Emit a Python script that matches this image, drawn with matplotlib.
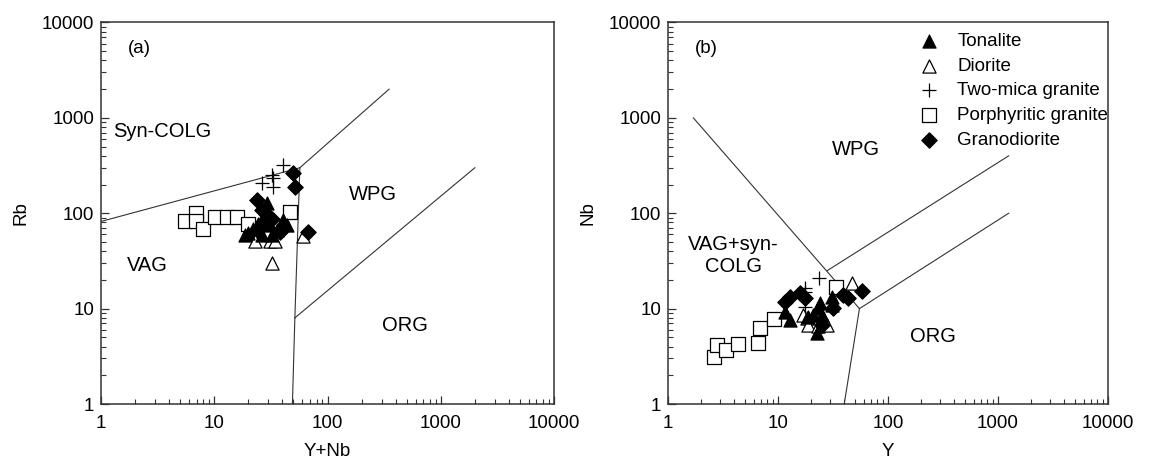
import matplotlib
matplotlib.use("Agg")
import matplotlib.pyplot as plt
from matplotlib.ticker import LogLocator, NullFormatter, FixedLocator, FixedFormatter

plt.rcParams['font.family'] = ['Liberation Sans', 'DejaVu Sans']

# ---------------- data: panel (a) Rb vs Y+Nb ----------------
ton_a_x = [20, 22.1, 29, 30, 31, 35.6, 40.7, 43.7, 24.5, 26.2, 18.7, 32.2]
ton_a_y = [61.5, 69, 127, 104, 75, 67, 85, 75, 78, 59, 59, 59]
dio_a_x = [22.9, 31, 34.3, 32.2, 60.4]
dio_a_y = [51.5, 51.5, 51.5, 29.8, 57.7]
tmg_a_x = [40.7, 32.2, 33.3, 26.2, 33.3]
tmg_a_y = [320, 251, 232, 206, 190]
por_a_x = [5.5, 6.86, 6.86, 8.0, 10.1, 12.9, 15.8, 20, 46.5]
por_a_y = [83.5, 100, 83, 67.6, 91.7, 91.7, 91.7, 77, 104]
grd_a_x = [49.9, 51.6, 67.7, 23.7, 26.2, 29, 27, 24.5, 38.1, 32.2]
grd_a_y = [262, 187, 64, 137, 108, 96, 81, 67, 64, 88]

# ---------------- data: panel (b) Nb vs Y ----------------
ton_b_x = [11.6, 12.9, 23.2, 21, 25, 30.7, 30.7, 22.5, 24.1, 18.8]
ton_b_y = [9.3, 7.6, 10.1, 8.6, 8.6, 13.4, 10.9, 5.5, 11.4, 8.2]
dio_b_x = [47, 17, 18.2, 18.8, 27.8, 23.2]
dio_b_y = [18.5, 8.6, 7.9, 6.75, 6.75, 6.5]
tmg_b_x = [23.8, 17.6, 17.6, 17.6]
tmg_b_y = [20.8, 16.4, 15.1, 10.5]
por_b_x = [2.64, 2.77, 3.37, 4.36, 6.54, 6.86, 9.2, 33.5]
por_b_y = [3.13, 4.16, 3.69, 4.23, 4.4, 6.33, 7.8, 17.0]
grd_b_x = [12.9, 15.9, 17.6, 11.6, 25, 31.8, 43.5, 39, 58]
grd_b_y = [13.4, 14.5, 12.9, 11.8, 6.75, 10.1, 12.9, 13.9, 15.3]

# ---------------- discrimination boundaries ----------------
bound_a = [
    ([1, 57], [82, 300]),
    ([57, 350], [300, 2000]),
    ([57, 51.5], [300, 8]),
    ([51.5, 49], [8, 1]),
    ([51.5, 2000], [8, 300]),
]
bound_b = [
    ([1.7, 55], [1000, 10]),
    ([28, 1250], [25, 400]),
    ([55, 1250], [10, 100]),
    ([55, 40], [10, 1]),
]

labels = ["Tonalite", "Diorite", "Two-mica granite", "Porphyritic granite", "Granodiorite"]
ticks = [1, 10, 100, 1000, 10000]
tick_labels = ["1", "10", "100", "1000", "10000"]

styles = [
    dict(marker='^', facecolors='black', edgecolors='black', s=90, linewidths=0.8),
    dict(marker='^', facecolors='white', edgecolors='black', s=90, linewidths=0.9),
    dict(marker='+', c='black', s=100, linewidths=0.9),
    dict(marker='s', facecolors='white', edgecolors='black', s=90, linewidths=0.9),
    dict(marker='D', facecolors='black', edgecolors='black', s=62, linewidths=0.8),
]

fig = plt.figure(figsize=(11.58, 4.61), dpi=100)
axa = fig.add_axes([101/1158, 57/461, 453/1158, 381.5/461])
axb = fig.add_axes([668/1158, 57/461, 440/1158, 381.5/461])

spine_c = '#333333'
FS = 13.5

def setup(ax, xlabel, ylabel):
    ax.set_xscale('log')
    ax.set_yscale('log')
    ax.set_xlim(1, 10000)
    ax.set_ylim(1, 10000)
    for s in ax.spines.values():
        s.set_color(spine_c)
        s.set_linewidth(1.1)
    ax.xaxis.set_major_locator(FixedLocator(ticks))
    ax.xaxis.set_major_formatter(FixedFormatter(tick_labels))
    ax.yaxis.set_major_locator(FixedLocator(ticks))
    ax.yaxis.set_major_formatter(FixedFormatter(tick_labels))
    ax.xaxis.set_minor_locator(LogLocator(base=10, subs=range(2, 10), numticks=20))
    ax.yaxis.set_minor_locator(LogLocator(base=10, subs=range(2, 10), numticks=20))
    ax.xaxis.set_minor_formatter(NullFormatter())
    ax.yaxis.set_minor_formatter(NullFormatter())
    ax.tick_params(which='major', direction='in', length=6, width=0.9, color=spine_c,
                   labelsize=FS, top=False, right=False)
    ax.tick_params(axis='x', which='major', pad=8)
    ax.tick_params(axis='y', which='major', pad=5)
    ax.tick_params(which='minor', direction='in', length=3.5, width=0.8, color=spine_c,
                   top=False, right=False)
    ax.set_xlabel(xlabel, fontsize=FS, labelpad=7.5)
    ax.set_ylabel(ylabel, fontsize=FS, labelpad=9)

setup(axa, 'Y+Nb', 'Rb')
setup(axb, 'Y', 'Nb')

for xs, ys in bound_a:
    axa.plot(xs, ys, color='#333333', lw=0.8, zorder=1)
for xs, ys in bound_b:
    axb.plot(xs, ys, color='#333333', lw=0.8, zorder=1)

data_a = [(ton_a_x, ton_a_y), (dio_a_x, dio_a_y), (tmg_a_x, tmg_a_y), (por_a_x, por_a_y), (grd_a_x, grd_a_y)]
data_b = [(ton_b_x, ton_b_y), (dio_b_x, dio_b_y), (tmg_b_x, tmg_b_y), (por_b_x, por_b_y), (grd_b_x, grd_b_y)]
order = [3, 2, 1, 0, 4]
handles = [None] * 5
for i in order:
    axa.scatter(*data_a[i], zorder=3, **styles[i])
    handles[i] = axb.scatter(*data_b[i], zorder=3, label=labels[i], **styles[i])

# region labels
FL = 14.5
axa.text(0.06, 0.933, '(a)', transform=axa.transAxes, fontsize=13.5, va='center', ha='left')
axa.text(1.28, 728, 'Syn-COLG', fontsize=FL, va='center', ha='left')
axa.text(1.70, 28.5, 'VAG', fontsize=FL, va='center', ha='left')
axa.text(252, 159, 'WPG', fontsize=FL, va='center', ha='center')
axa.text(483, 6.7, 'ORG', fontsize=FL, va='center', ha='center')

axb.text(0.061, 0.933, '(b)', transform=axb.transAxes, fontsize=13.5, va='center', ha='left')
axb.text(51, 463, 'WPG', fontsize=FL, va='center', ha='center')
axb.text(3.9, 36, 'VAG+syn-\nCOLG', fontsize=FL, va='center', ha='center',
         multialignment='center', linespacing=1.2)
axb.text(256, 5.05, 'ORG', fontsize=FL, va='center', ha='center')

leg = axb.legend(handles=handles, labels=labels, loc='upper left',
                 bbox_to_anchor=((918 - 668) / 440, (404 - 33) / 381.5),
                 frameon=False, fontsize=13.5, handletextpad=0.9, labelspacing=0.4,
                 borderpad=0, borderaxespad=0, handlelength=1.2, scatterpoints=1)

fig.savefig('out.png', dpi=100)
